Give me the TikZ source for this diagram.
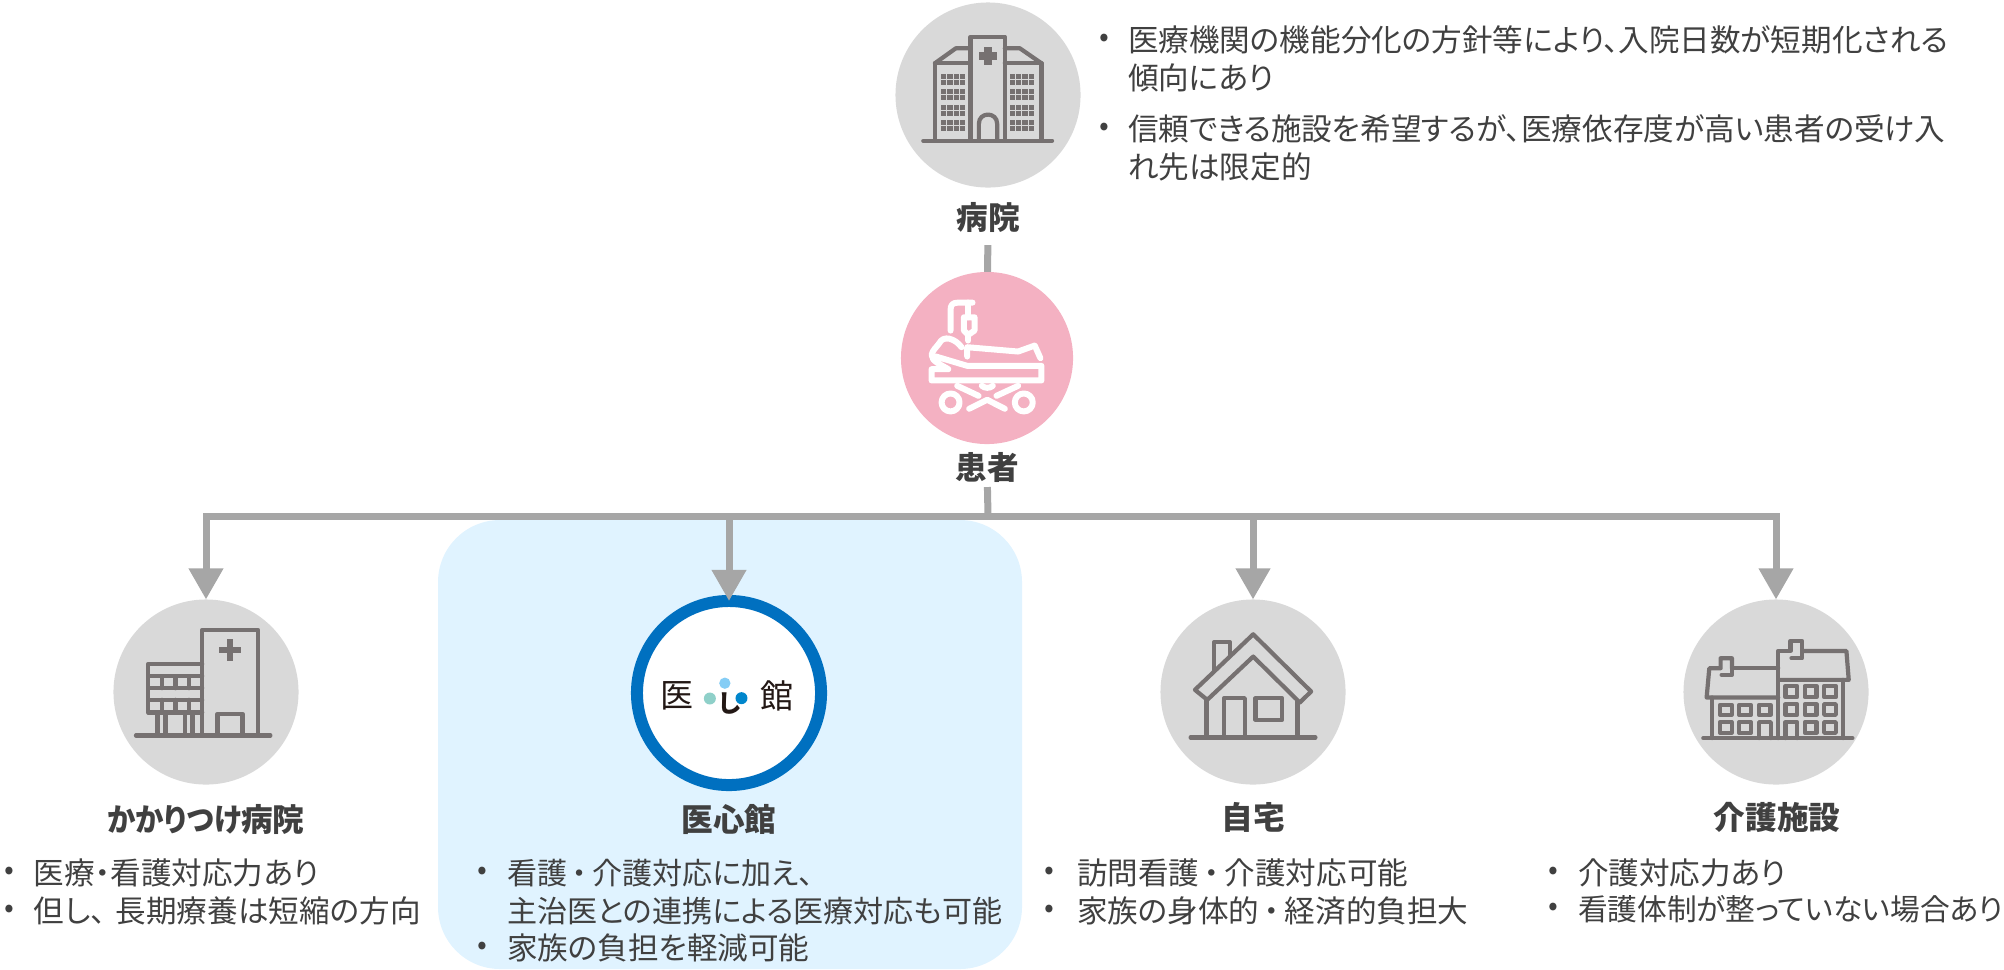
\documentclass[tikz,border=0pt]{standalone}
\usepackage{fontspec}
\setmainfont[RawFeature=+palt]{Noto Sans CJK JP}
\newfontfamily\logofont{Noto Sans CJK JP}
\usetikzlibrary{arrows.meta}
\definecolor{greyfill}{HTML}{D9D9D9}
\definecolor{iconline}{HTML}{767171}
\definecolor{linkgrey}{HTML}{A6A6A6}
\definecolor{textgrey}{HTML}{404040}
\definecolor{patientpink}{HTML}{F4B1C2}
\definecolor{panelblue}{HTML}{E0F3FF}
\definecolor{ringblue}{HTML}{0070C0}
\definecolor{logoteal}{HTML}{8FD0C9}
\definecolor{logosky}{HTML}{85CDF5}
\definecolor{logoblue}{HTML}{0086CC}
\definecolor{logoink}{HTML}{231815}
\newcommand{\dotgap}{\hspace{0.05cm}・\hspace{0.05cm}}
\tikzset{
  iconzoom/.style 2 args={shift={(#1,#2)},x=0.003333cm,y=-0.003333cm},
  iconstroke/.style={draw=iconline,line width=0.042cm,line join=round,line cap=round},
  whitestroke/.style={draw=white,line width=0.06cm,line join=round,line cap=round},
  greydisc/.style={circle,fill=greyfill,minimum size=1.85cm,inner sep=0pt,outer sep=0pt},
  namelabel/.style={inner sep=0pt,outer sep=0pt,text=textgrey,font=\fontsize{9}{10}\selectfont\bfseries},
  itemtext/.style={anchor=west,inner sep=0pt,outer sep=0pt,align=left,text=textgrey,font=\fontsize{8.7}{10.8}\selectfont},
  itemdot/.style={inner sep=0pt,outer sep=0pt,text=textgrey,font=\fontsize{8.2}{10.8}\selectfont},
  logomark/.style={inner sep=0pt,text=logoink,font=\logofont\fontsize{9.4}{10}\selectfont},
  linkline/.style={draw=linkgrey,line width=0.07cm},
  linkarrow/.style={linkline,-{Triangle[length=0.31cm,width=0.33cm]}}
}
\begin{document}
\begin{tikzpicture}[x=0.01cm,y=-0.01cm]
\useasboundingbox (0,0) rectangle (2004,969);
\fill [panelblue,rounded corners=0.62cm] (438,520) rectangle (1022,969);

\node [greydisc] (hospital) at (988,95) {};
\node [circle,fill=patientpink,minimum size=1.72cm,inner sep=0pt,outer sep=0pt] (patient) at (987,358) {};
\node [greydisc] (clinic) at (206,692) {};
\node [circle,draw=ringblue,fill=white,line width=0.12cm,minimum size=1.84cm,inner sep=0pt,outer sep=0pt] (ishinkan) at (729,693) {};
\node [greydisc] (home) at (1253,692) {};
\node [greydisc] (care) at (1776,692) {};

\node [namelabel,minimum height=0.56cm] (hospitallabel) at (988,217) {病院};
\node [namelabel,minimum height=0.40cm] (patientlabel) at (987,467) {患者};
\node [namelabel] (clinicname) at (206,819) {\scalebox{0.9}[1]{かかりつけ}病院};
\node [namelabel] (ishinkanname) at (729,819) {医心館};
\node [namelabel] (homename) at (1253,817) {自宅};
\node [namelabel] (carename) at (1777,817) {介護施設};

\coordinate (bustop) at (988,516);
\coordinate (busclinic) at (206,516);
\coordinate (busishinkan) at (729,516);
\coordinate (bushome) at (1253,516);
\coordinate (buscare) at (1776,516);
\draw [linkline] (hospitallabel) -- (patient);
\draw [linkline] (patientlabel) -- (bustop);
\draw [linkline,line cap=rect] (busclinic) -- (buscare);
\draw [linkarrow] (busclinic) -- (clinic);
\draw [linkarrow] (busishinkan) -- (ishinkan);
\draw [linkarrow] (bushome) -- (home);
\draw [linkarrow] (buscare) -- (care);

\begin{scope}[iconzoom={880}{0}]
\draw [iconstroke] (130,423) -- (517,423);
\draw [iconstroke] (165,423) -- (165,190) -- (272,190);
\draw [iconstroke] (485,423) -- (485,190) -- (375,190);
\draw [iconstroke] (272,423) -- (272,110) -- (375,110) -- (375,423);
\draw [iconstroke] (165,190) -- (228,145) -- (272,145);
\draw [iconstroke] (485,190) -- (420,145) -- (375,145);
\draw [iconstroke] (297,423) -- (297,372) .. controls (297,335) and (352,335) .. (352,372) -- (352,423);
\fill [iconline] (298,156) rectangle (352,180);
\fill [iconline] (313,142) rectangle (337,195);
\foreach \xo in {0,207} \foreach \rowy in {222,268,315,362} \foreach \dy in {0,18} \foreach \colx in {183,202,221,240}
  \fill [iconline] ({\colx+\xo},{\rowy+\dy}) rectangle ++(16,15);
\end{scope}

\begin{scope}[iconzoom={880}{260}]
\draw [whitestroke] (212,212) -- (212,150) .. controls (212,135) and (218,128) .. (235,128) -- (278,128);
\draw [whitestroke] (265,128) -- (265,172);
\draw [whitestroke] (252,172) -- (284,172) -- (284,212) -- (265,225) -- (252,212) -- cycle;
\draw [whitestroke] (265,225) -- (265,242);
\draw [whitestroke] (245,262) .. controls (225,235) and (190,225) .. (178,250) .. controls (170,262) and (158,270) .. (155,285) .. controls (155,305) and (185,315) .. (205,328) -- (155,328) -- (155,362) -- (485,362) -- (485,318) -- (262,318) -- (168,290);
\draw [whitestroke] (262,290) -- (262,262) -- (415,275) -- (465,257) -- (482,295);
\draw [whitestroke] (232,378) -- (296,408);
\draw [whitestroke] (415,378) -- (350,408);
\draw [whitestroke] (268,447) -- (322,420) -- (375,447);
\draw [whitestroke] (306,378) .. controls (315,386) and (330,386) .. (339,378);
\draw [whitestroke] (212,428) circle (27);
\draw [whitestroke] (432,428) circle (27);
\end{scope}

\begin{scope}[iconzoom={100}{590}]
\draw [iconstroke] (108,437) -- (512,437);
\draw [iconstroke] (307,437) -- (307,120) -- (475,120) -- (475,437);
\draw [iconstroke] (353,437) -- (353,372) -- (428,372) -- (428,437);
\draw [iconstroke] (307,222) -- (145,222) -- (145,368) -- (307,368);
\draw [iconstroke] (145,259) -- (307,259);
\draw [iconstroke] (145,295) -- (307,295);
\draw [iconstroke] (145,330) -- (307,330);
\foreach \colx in {187,227,267} {
  \draw [iconstroke] (\colx,259) -- (\colx,295);
  \draw [iconstroke] (\colx,330) -- (\colx,368);
}
\foreach \colx in {173,197,255,278}
  \draw [iconstroke] (\colx,368) -- (\colx,437);
\fill [iconline] (358,170) rectangle (425,190);
\fill [iconline] (381,147) rectangle (401,212);
\end{scope}

\begin{scope}[iconzoom={1150}{590}]
\draw [iconstroke] (122,443) -- (497,443);
\draw [iconstroke] (310,133) -- (484,305) -- (450,338) -- (310,200) -- (172,330) -- (135,300) -- cycle;
\draw [iconstroke] (170,330) -- (170,443);
\draw [iconstroke] (443,335) -- (443,443);
\draw [iconstroke] (223,443) -- (223,325) -- (285,325) -- (285,443);
\draw [iconstroke] (317,325) rectangle (397,390);
\draw [iconstroke] (192,240) -- (192,157) -- (240,157) -- (240,195);
\end{scope}

\begin{scope}[iconzoom={1670}{590}]
\draw [iconstroke] (100,445) -- (548,445);
\draw [iconstroke] (325,445) -- (325,183) -- (362,183) -- (362,153) -- (397,153) -- (397,205) -- (365,205);
\draw [iconstroke] (397,183) -- (530,183) -- (537,270) -- (325,270);
\draw [iconstroke] (520,270) -- (520,445);
\draw [iconstroke] (325,235) -- (186,235) -- (186,255) -- (155,255);
\draw [iconstroke] (186,235) -- (186,205) -- (152,205) -- (152,235) -- (118,235) -- (110,323) -- (325,323);
\draw [iconstroke] (127,323) -- (127,445);
\foreach \colx in {150,208,267}
  \draw [iconstroke] (\colx,345) rectangle ++(35,30);
\foreach \colx in {150,208}
  \draw [iconstroke] (\colx,397) rectangle ++(35,32);
\draw [iconstroke] (268,445) -- (268,397) -- (303,397) -- (303,445);
\foreach \colx in {347,405,463} {
  \draw [iconstroke] (\colx,288) rectangle ++(35,34);
  \draw [iconstroke] (\colx,343) rectangle ++(35,32);
}
\foreach \colx in {405,463}
  \draw [iconstroke] (\colx,397) rectangle ++(35,32);
\draw [iconstroke] (347,445) -- (347,397) -- (382,397) -- (382,445);
\end{scope}

\begin{scope}[iconzoom={620}{590}]
\fill [logoteal] (270,326) circle (18);
\fill [logosky] (315,280) circle (17);
\fill [logoblue] (365,325) circle (18);
\end{scope}
\node [logomark] (logoleft) at (677,696) {医};
\node [logomark,font=\logofont\fontsize{7}{8}\selectfont\bfseries] (logomid) at (730,704) {し};
\node [logomark] (logoright) at (777,696) {館};

\node [itemdot] (topdota) at (1104,40) {•};
\node [itemtext] (topitema) at (1128,59) {医療機関の機能分化の方針等により、入院日数が短期化される\\傾向にあり};
\node [itemdot] (topdotb) at (1104,129) {•};
\node [itemtext] (topitemb) at (1128,148) {信頼できる施設を希望するが、医療依存度が高い患者の受け入\\れ先は限定的};

\node [itemdot] (clinicdota) at (9,873) {•};
\node [itemtext] (clinicitema) at (34,873) {医療・看護対応力あり};
\node [itemdot] (clinicdotb) at (9,911) {•};
\node [itemtext] (clinicitemb) at (34,911) {但し、\hspace{0.1cm}長期療養は短縮の方向};

\node [itemdot] (ishinkandota) at (482,873) {•};
\node [itemtext,font=\fontsize{8.55}{10.8}\selectfont] (ishinkanitema) at (507,892) {看護\dotgap 介護対応に加え、\\主治医との連携による医療対応も可能};
\node [itemdot] (ishinkandotb) at (482,948) {•};
\node [itemtext] (ishinkanitemb) at (507,948) {家族の負担を軽減可能};

\node [itemdot] (homedota) at (1049,873) {•};
\node [itemtext] (homeitema) at (1077,873) {訪問看護\dotgap 介護対応可能};
\node [itemdot] (homedotb) at (1049,911) {•};
\node [itemtext] (homeitemb) at (1077,911) {家族の身体的\dotgap 経済的負担大};

\node [itemdot] (caredota) at (1553,873) {•};
\node [itemtext] (careitema) at (1578,873) {介護対応力あり};
\node [itemdot] (caredotb) at (1553,909) {•};
\node [itemtext,font=\fontsize{8.45}{10.8}\selectfont] (careitemb) at (1578,909) {看護体制が整っていない場合あり};
\end{tikzpicture}
\end{document}
